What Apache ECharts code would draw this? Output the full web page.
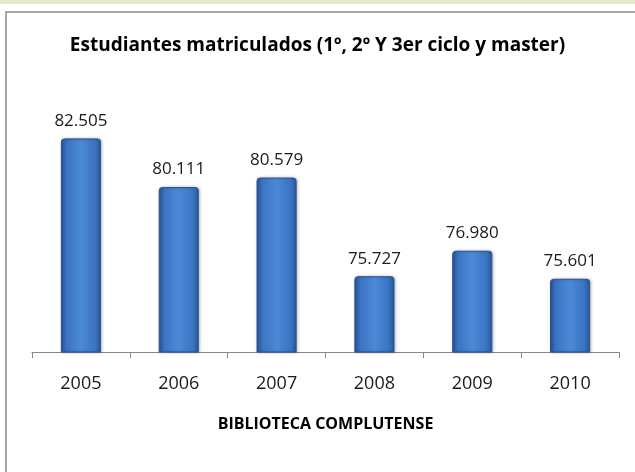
<!DOCTYPE html>
<html>
<head>
<meta charset="utf-8">
<script src="https://cdn.jsdelivr.net/npm/echarts@6/dist/echarts.min.js"></script>
<style>
  html, body { margin: 0; padding: 0; background: #ffffff; }
  #main { width: 635px; height: 472px; }
</style>
</head>
<body>
<div id="main"></div>
<script>
var years = ['2005', '2006', '2007', '2008', '2009', '2010'];
var students = [82.505, 80.111, 80.579, 75.727, 76.980, 75.601];

var myChart = echarts.init(document.getElementById('main'));

var option = {
    backgroundColor: '#ffffff',
    animation: false,
    graphic: [
        { // franja verde superior
            type: 'rect',
            shape: { x: 0, y: 0, width: 635, height: 4 },
            style: { fill: '#e2ecca' },
            silent: true
        },
        { // marco gris
            type: 'rect',
            shape: { x: 6, y: 12, width: 640, height: 480 },
            style: { fill: 'none', stroke: '#a6a6a6', lineWidth: 2 },
            silent: true
        }
    ],
    title: {
        text: 'Estudiantes matriculados (1º, 2º Y 3er ciclo y master)',
        left: 'center',
        top: 31,
        textStyle: {
            fontFamily: 'Open Sans',
            fontWeight: 'bold',
            fontSize: 19,
            color: '#000000'
        }
    },
    grid: {
        left: 32,
        right: 16,
        top: 108,
        bottom: 120
    },
    xAxis: {
        type: 'category',
        data: years,
        name: 'BIBLIOTECA COMPLUTENSE',
        nameLocation: 'middle',
        nameGap: 64,
        nameTextStyle: {
            fontFamily: 'Open Sans',
            fontWeight: 'bold',
            fontSize: 16,
            color: '#000000'
        },
        axisLine: { lineStyle: { color: '#868686', width: 1 } },
        axisTick: { show: true, length: 6, lineStyle: { color: '#868686' } },
        axisLabel: {
            margin: 23,
            fontFamily: 'Open Sans',
            fontSize: 18,
            color: '#1a1a1a'
        }
    },
    yAxis: {
        type: 'value',
        min: 72,
        max: 84,
        show: false
    },
    series: [{
        type: 'bar',
        data: students,
        barWidth: '41%',
        itemStyle: {
            color: new echarts.graphic.LinearGradient(0, 0, 1, 0, [
                { offset: 0, color: '#2a5797' },
                { offset: 0.15, color: '#3b74c2' },
                { offset: 0.5, color: '#4b8ad8' },
                { offset: 0.85, color: '#3b74c2' },
                { offset: 1, color: '#2a5797' }
            ]),
            borderColor: '#2a5290',
            borderWidth: 1,
            borderRadius: [3, 3, 0, 0],
            shadowColor: 'rgba(0,0,0,0.25)',
            shadowBlur: 3,
            shadowOffsetX: 1
        },
        label: {
            show: true,
            position: 'top',
            distance: 9,
            fontFamily: 'Open Sans',
            fontSize: 17,
            color: '#1a1a1a',
            formatter: function (p) {
                return p.value.toFixed(3);
            }
        }
    }]
};

myChart.setOption(option);
</script>
</body>
</html>
